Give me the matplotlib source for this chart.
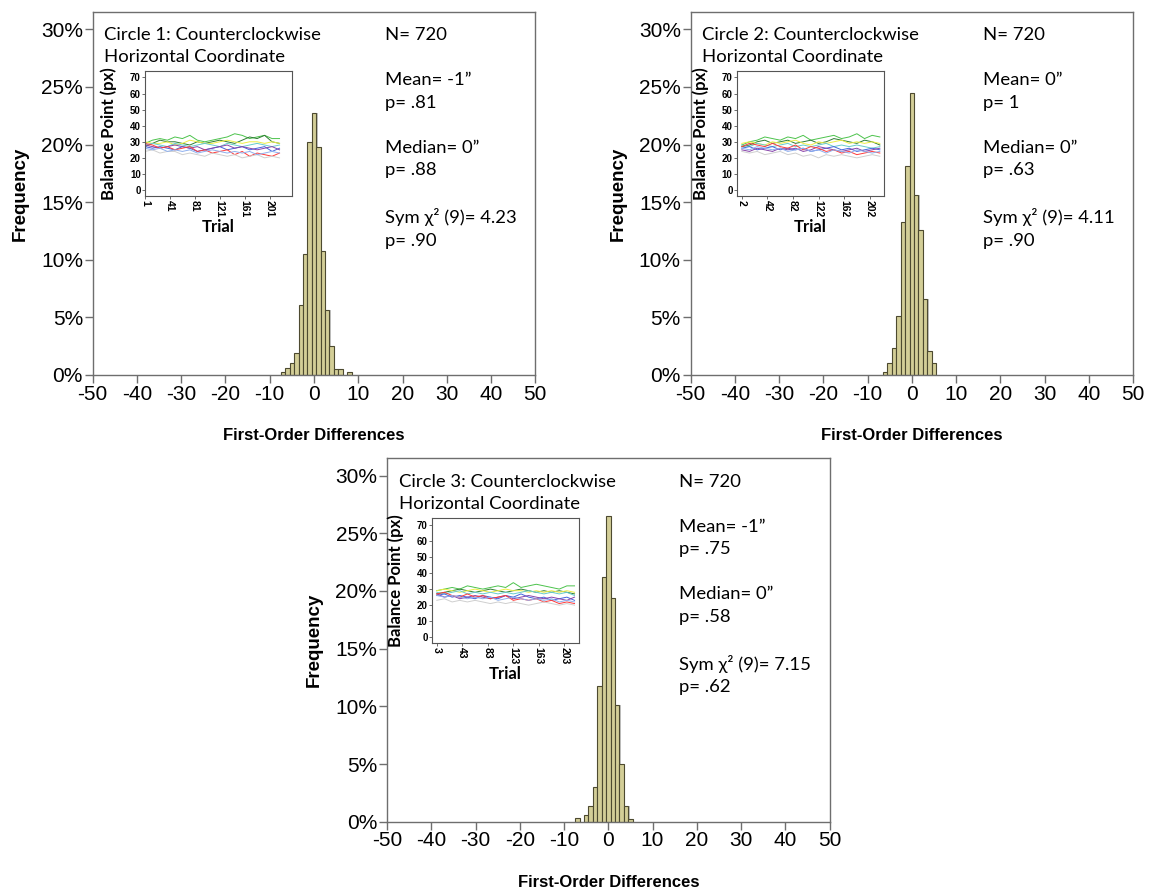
import matplotlib
matplotlib.use("Agg")
import matplotlib.pyplot as plt
import numpy as np

plt.rcParams["axes.unicode_minus"] = False

# histogram of first-order differences, % of N=720
bins1 = [-7, -6, -5, -4, -3, -2, -1, 0, 1, 2, 3, 4, 5, 6, 8]
freq1 = [0.3, 0.6, 1.0, 1.9, 6.1, 10.5, 20.2, 22.7, 19.8, 10.8, 5.6, 2.5, 0.5, 0.5, 0.3]
bins2 = [-6, -5, -4, -3, -2, -1, 0, 1, 2, 3, 4, 5]
freq2 = [0.3, 1.0, 2.3, 5.1, 13.3, 18.1, 24.5, 15.6, 12.6, 6.6, 2.1, 1.0]
bins3 = [-7, -5, -4, -3, -2, -1, 0, 1, 2, 3, 4, 5]
freq3 = [0.3, 0.55, 1.35, 3.0, 11.8, 21.2, 26.5, 19.4, 10.1, 5.0, 1.35, 0.26]

titles = ["Circle 1: Counterclockwise\nHorizontal Coordinate",
          "Circle 2: Counterclockwise\nHorizontal Coordinate",
          "Circle 3: Counterclockwise\nHorizontal Coordinate"]
stats = ["N= 720\n\nMean= -1\u201d\np= .81\n\nMedian= 0\u201d\np= .88\n\nSym \u03c7\u00b2 (9)= 4.23\np= .90",
         "N= 720\n\nMean= 0\u201d\np= 1\n\nMedian= 0\u201d\np= .63\n\nSym \u03c7\u00b2 (9)= 4.11\np= .90",
         "N= 720\n\nMean= -1\u201d\np= .75\n\nMedian= 0\u201d\np= .58\n\nSym \u03c7\u00b2 (9)= 7.15\np= .62"]

# inset: balance point per trial (sampled every 12 trials), one line per participant
line_colors = ["#4cc34c", "#2e7d32", "#eeee44", "#66cccc", "#4466dd",
               "#8844aa", "#ff3b3b", "#cfcfcf", "#8fb0ee"]
trial_start = [1, 2, 3]
trial_ticks = [[1, 41, 81, 121, 161, 201], [2, 42, 82, 122, 162, 202], [3, 43, 83, 123, 163, 203]]
inset_xlim = [(1, 237), (-6, 224), (-5, 226)]

ins1 = [
    [29, 31, 32, 31, 33, 32, 34, 31, 30, 31, 32, 33, 35, 34, 32, 33, 34, 32, 32],
    [27, 29, 31, 30, 30, 29, 28, 30, 29, 30, 31, 30, 29, 31, 33, 32, 34, 30, 29],
    [30, 29, 29, 30, 28, 29, 31, 30, 29, 29, 30, 31, 30, 29, 30, 30, 29, 30, 29],
    [28, 29, 28, 27, 29, 28, 27, 28, 29, 28, 27, 29, 28, 27, 28, 29, 28, 27, 28],
    [27, 26, 27, 26, 25, 27, 26, 24, 25, 26, 27, 25, 26, 27, 25, 26, 27, 24, 26],
    [28, 27, 26, 27, 28, 27, 26, 27, 25, 26, 27, 28, 26, 27, 26, 25, 26, 27, 25],
    [29, 28, 26, 27, 25, 26, 27, 24, 25, 23, 24, 25, 22, 24, 21, 23, 22, 21, 23],
    [24, 25, 23, 24, 24, 22, 23, 22, 21, 23, 22, 21, 22, 20, 21, 22, 20, 21, 20],
    [26, 25, 26, 24, 25, 24, 25, 23, 24, 25, 24, 23, 24, 23, 24, 22, 23, 24, 23],
]
ins2 = [
    [28, 30, 31, 33, 32, 31, 33, 32, 34, 31, 32, 33, 34, 32, 33, 35, 32, 34, 33],
    [27, 28, 30, 31, 29, 30, 31, 29, 30, 31, 29, 30, 32, 31, 30, 29, 31, 30, 28],
    [29, 30, 29, 28, 30, 29, 30, 31, 29, 28, 30, 29, 30, 31, 29, 30, 29, 30, 29],
    [28, 27, 29, 28, 27, 28, 29, 27, 28, 27, 28, 29, 27, 28, 27, 28, 27, 26, 27],
    [26, 27, 25, 26, 27, 25, 26, 25, 26, 24, 25, 26, 27, 25, 26, 24, 25, 26, 25],
    [25, 24, 26, 25, 24, 26, 25, 26, 24, 25, 27, 26, 25, 24, 25, 26, 24, 25, 26],
    [27, 29, 28, 27, 29, 27, 26, 28, 25, 27, 26, 24, 25, 23, 24, 22, 23, 24, 23],
    [24, 23, 24, 22, 23, 24, 22, 23, 21, 22, 20, 22, 21, 22, 21, 20, 21, 22, 21],
    [26, 25, 27, 26, 25, 26, 24, 25, 26, 24, 25, 23, 25, 24, 23, 25, 24, 23, 24],
]
ins3 = [
    [29, 30, 31, 30, 32, 31, 30, 31, 32, 31, 34, 31, 32, 33, 32, 31, 30, 32, 32],
    [27, 28, 29, 30, 29, 28, 29, 30, 29, 28, 29, 30, 29, 28, 29, 28, 29, 28, 27],
    [29, 30, 29, 28, 29, 30, 29, 28, 29, 30, 29, 29, 28, 29, 28, 29, 28, 29, 28],
    [28, 27, 28, 29, 27, 28, 27, 28, 27, 28, 27, 28, 29, 28, 27, 28, 27, 28, 26],
    [26, 27, 25, 26, 25, 24, 26, 25, 24, 26, 25, 27, 25, 24, 25, 23, 24, 25, 23],
    [27, 25, 26, 24, 25, 26, 25, 24, 25, 26, 24, 25, 26, 25, 24, 25, 24, 23, 25],
    [27, 28, 26, 25, 27, 25, 26, 24, 25, 26, 23, 24, 23, 24, 22, 23, 21, 22, 21],
    [23, 24, 22, 23, 22, 23, 22, 21, 22, 21, 22, 21, 20, 21, 22, 21, 20, 21, 20],
    [26, 25, 26, 25, 24, 25, 24, 25, 23, 24, 25, 24, 23, 24, 23, 24, 22, 23, 22],
]

hist_bins = [bins1, bins2, bins3]
hist_freq = [freq1, freq2, freq3]
inset_data = [ins1, ins2, ins3]

W, H = 1149, 889
fig = plt.figure(figsize=(W / 100, H / 100), dpi=100)

# panel boxes in pixels: left, top, right, bottom
main_px = [(92.7, 12, 535.3, 375), (690.5, 12, 1133.1, 375), (387, 458.3, 829.6, 821.7)]
inset_px = [(145, 71, 292, 196), (736.7, 71, 883.7, 196), (431.7, 518.3, 579, 643.3)]


def px_rect(l, t, r, b):
    return [l / W, 1 - b / H, (r - l) / W, (b - t) / H]


frame_col = "#6e6e6e"
tick_font = "Liberation Sans"
note_font = ["Lato", "DejaVu Sans"]

for i in range(3):
    ax = fig.add_axes(px_rect(*main_px[i]))
    x = np.array(hist_bins[i])
    ax.bar(x + 0.3, hist_freq[i], width=1, color="#c2c2c2", zorder=1)
    ax.bar(x, hist_freq[i], width=1, color="#d3ce97", edgecolor="#4d4a30",
           linewidth=0.8, zorder=2)
    ax.set_xlim(-50, 50)
    ax.set_ylim(0, 31.5)
    ax.set_xticks(np.arange(-50, 51, 10))
    ax.set_yticks(np.arange(0, 31, 5))
    ax.set_yticklabels([f"{v}%" for v in range(0, 31, 5)])
    for sp in ax.spines.values():
        sp.set_color(frame_col)
        sp.set_linewidth(1.0)
    ax.tick_params(direction="out", length=6, width=1, color=frame_col, pad=1)
    for lab in ax.get_xticklabels() + ax.get_yticklabels():
        lab.set_fontfamily(tick_font)
        lab.set_fontsize(15)
    ax.set_xlabel("First-Order Differences", fontfamily=tick_font, fontsize=12,
                  fontweight="bold", va="center")
    ax.xaxis.set_label_coords(0.5, -0.167)
    ax.set_ylabel("Frequency", fontfamily=tick_font, fontsize=13.5,
                  fontweight="bold", va="center")
    ax.yaxis.set_label_coords(-0.164, 0.5)

    ax.text(0.026, 0.958, titles[i], transform=ax.transAxes, va="top", ha="left",
            fontsize=13.3, family=note_font, linespacing=1.47)
    ax.text(0.66, 0.958, stats[i], transform=ax.transAxes, va="top", ha="left",
            fontsize=13.3, family=note_font, linespacing=1.5)

    # inset line chart
    ia = fig.add_axes(px_rect(*inset_px[i]))
    trials = trial_start[i] + 12 * np.arange(len(inset_data[i][0]))
    for vals, c in zip(inset_data[i], line_colors):
        ia.plot(trials, vals, color=c, linewidth=0.7)
    ia.set_xlim(*inset_xlim[i])
    ia.set_ylim(-3.7, 74)
    ia.set_yticks(np.arange(0, 71, 10))
    ia.set_xticks(trial_ticks[i])
    for sp in ia.spines.values():
        sp.set_color("#555555")
        sp.set_linewidth(0.8)
    ia.tick_params(direction="out", length=2, width=0.6, color="#555555", pad=1)
    for lab in ia.get_yticklabels():
        lab.set_fontfamily(tick_font)
        lab.set_fontweight("bold")
        lab.set_fontsize(7)
    for lab in ia.get_xticklabels():
        lab.set_fontfamily(tick_font)
        lab.set_fontweight("bold")
        lab.set_fontsize(7.5)
        lab.set_rotation(-90)
    ia.set_ylabel("Balance Point (px)", family=note_font, fontsize=12,
                  fontweight="bold", va="center")
    ia.yaxis.set_label_coords(-0.245, 0.5)
    ia.set_xlabel("Trial", family=note_font, fontsize=12, fontweight="bold",
                  labelpad=1)

fig.savefig("out.png", dpi=100)
